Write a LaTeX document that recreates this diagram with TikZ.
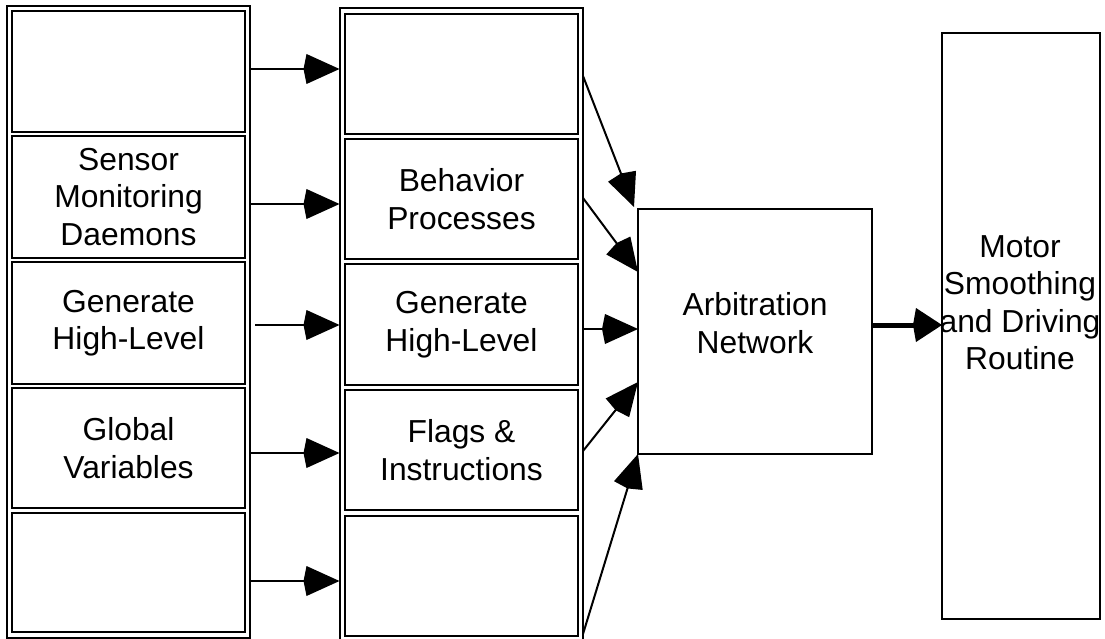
\documentclass[tikz,border=0pt]{standalone}
\usepackage{fontspec}
\setmainfont{Liberation Sans}
\usetikzlibrary{arrows.meta}
\newcommand\diagfont{\fontsize{31.8}{37.5}\selectfont}
\begin{document}
\begin{tikzpicture}[x=1pt,y=-1pt,
  frame/.style={draw, line width=2pt, inner sep=0pt, outer sep=0pt},
  cell/.style={frame, align=center, font=\diagfont, minimum width=233pt},
  caption/.style={align=center, font=\diagfont, inner sep=0pt},
  flow/.style={line width=2pt, -{Kite[length=36pt,width=30pt,inset=3pt]}},
  mainflow/.style={line width=5pt, -{Kite[length=29pt,width=34pt,inset=3pt]}}]
\useasboundingbox (0,0) rectangle (1105,639);

% left column: outer frame and its five cells
\node[frame, minimum width=243pt, minimum height=631.5pt] (outerL) at (128.5,321.75) {};
\node[cell, minimum height=121pt] (L1) at (128.5,71.5) {};
\node[cell, minimum height=122pt] (L2) at (128.5,197) {Sensor\\Monitoring\\Daemons};
\node[cell, minimum height=122pt] (L3) at (128.5,323) {Generate\\High-Level};
\node[cell, minimum height=120pt] (L4) at (128.5,448) {Global\\Variables};
\node[cell, minimum height=119pt] (L5) at (128.5,572.5) {};

% middle column: outer frame and its five cells
\node[frame, minimum width=243.5pt, minimum height=633pt] (outerM) at (461.25,324.5) {};
\node[cell, minimum height=120pt] (M1) at (461.5,74) {};
\node[cell, minimum height=120pt] (M2) at (461.5,199) {Behavior\\Processes};
\node[cell, minimum height=121pt] (M3) at (461.5,324.5) {Generate\\High-Level};
\node[cell, minimum height=120pt] (M4) at (461.5,450) {Flags \&\\Instructions};
\node[cell, minimum height=120pt] (M5) at (461.5,576) {};

% arbitration and motor blocks
\node[frame, minimum width=234pt, minimum height=245pt] (arb) at (755,331.5) {};
\node[caption] (arbtext) at (755,323) {Arbitration\\Network};
\node[frame, minimum width=158pt, minimum height=586pt] (motor) at (1021,326) {};
\node[caption] (motortext) at (1020,302.5) {Motor\\Smoothing\\and Driving\\Routine};

% left column -> middle column
\draw[flow] (outerL.east |- 0,69) -- (outerM.west |- 0,69);
\draw[flow] (outerL.east |- 0,204) -- (outerM.west |- 0,204);
\draw[flow] ([xshift=5pt]outerL.east |- 0,325) -- (outerM.west |- 0,325);
\draw[flow] (outerL.east |- 0,453) -- (outerM.west |- 0,453);
\draw[flow] (outerL.east |- 0,581) -- (outerM.west |- 0,581);

% middle column -> arbitration network
\draw[flow] (outerM.east |- 0,76) -- ([shift={(-4,-2)}]arb.north west);
\draw[flow] (outerM.east |- 0,198) -- (arb.west |- 0,272);
\draw[flow] (outerM.east |- 0,329) -- (arb.west |- 0,329);
\draw[flow] (outerM.east |- 0,451) -- (arb.west |- 0,382);
\draw[flow] (outerM.east |- 0,634) -- (arb.south west);

% arbitration network -> motor routine
\draw[mainflow] (arb.east |- 0,325) -- (motor.west |- 0,325);
\end{tikzpicture}
\end{document}
